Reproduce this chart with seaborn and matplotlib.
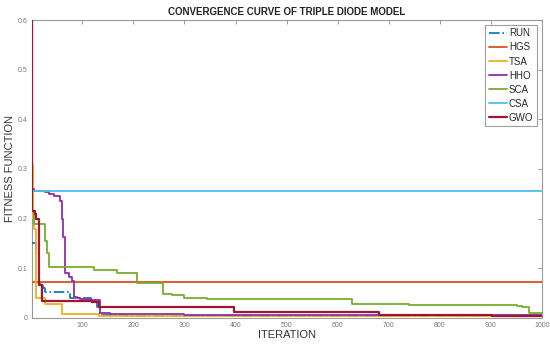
import numpy as np
import pandas as pd
import matplotlib
matplotlib.use('Agg')
import matplotlib.pyplot as plt
import seaborn as sns

# breakpoints (iteration, best fitness), drawn as steps
run_it = [1, 4, 10, 14, 17, 22, 27, 76, 116, 129, 135, 187, 1000]
run_val = [0.15, 0.15, 0.13, 0.07, 0.068, 0.06, 0.053, 0.041, 0.035, 0.021, 0.006, 0.003, 0.002]

hgs_it = [1, 1000]
hgs_val = [0.072, 0.072]

tsa_it = [1, 3, 6, 10, 27, 60, 133, 1000]
tsa_val = [0.31, 0.2, 0.18, 0.039, 0.027, 0.008, 0.004, 0.003]

hho_it = [1, 5, 27, 35, 45, 57, 60, 62, 65, 73, 80, 83, 90, 96, 116, 135, 155, 300, 1000]
hho_val = [0.26, 0.255, 0.253, 0.25, 0.245, 0.236, 0.2, 0.163, 0.09, 0.083, 0.075,
           0.043, 0.04, 0.038, 0.035, 0.01, 0.008, 0.005, 0.003]

sca_it = [1, 5, 27, 30, 34, 122, 168, 207, 257, 276, 299, 344, 629, 740, 952, 962, 975, 1000]
sca_val = [0.215, 0.19, 0.155, 0.13, 0.103, 0.096, 0.091, 0.071, 0.049, 0.047, 0.039,
           0.037, 0.027, 0.026, 0.024, 0.022, 0.009, 0.009]

csa_it = [1, 1000]
csa_val = [0.255, 0.255]

gwo_it = [1, 2, 8, 10, 14, 21, 119, 133, 397, 681, 903, 1000]
gwo_val = [0.6, 0.216, 0.21, 0.2, 0.066, 0.033, 0.031, 0.021, 0.011, 0.006, 0.003, 0.003]

names = ['RUN', 'HGS', 'TSA', 'HHO', 'SCA', 'CSA', 'GWO']
series = [(run_it, run_val), (hgs_it, hgs_val), (tsa_it, tsa_val), (hho_it, hho_val),
          (sca_it, sca_val), (csa_it, csa_val), (gwo_it, gwo_val)]
colors = ['#0072BD', '#D95319', '#EDB120', '#8E2FA8', '#77AC30', '#4DBEEE', '#A2142F']
styles = ['-.', '-', '-', '-', '-', '-', '-']
widths = [1.2, 1.3, 1.3, 1.3, 1.3, 1.3, 1.6]

sns.set_style('white')
plt.rcParams['font.family'] = ['Liberation Sans', 'DejaVu Sans']

fig = plt.figure(figsize=(5.5, 3.47), dpi=100)
ax = fig.add_axes([0.058, 0.084, 0.927, 0.858])

for name, (it, val), c, ls, lw in zip(names, series, colors, styles, widths):
    df = pd.DataFrame({'iteration': it, 'fitness': val})
    sns.lineplot(data=df, x='iteration', y='fitness', ax=ax, color=c, linestyle=ls,
                 linewidth=lw, drawstyle='steps-post', label=name, estimator=None,
                 zorder=3)

ax.set_xlim(1, 1000)
ax.set_ylim(0, 0.6)
ax.set_xticks(np.arange(100, 1001, 100))
ax.set_yticks(np.arange(0, 0.61, 0.1))
ax.set_yticklabels(['0', '0.1', '0.2', '0.3', '0.4', '0.5', '0.6'])
ax.tick_params(direction='in', length=3, width=0.6, colors='#888888', labelsize=5,
               labelcolor='#777777', top=True, right=True, pad=3)
for sp in ax.spines.values():
    sp.set_color('#999999')
    sp.set_linewidth(0.8)

ax.set_title('CONVERGENCE CURVE OF TRIPLE DIODE MODEL', fontsize=7, fontweight='bold',
             color='#222222', pad=4)
ax.set_xlabel('ITERATION', fontsize=8, color='#333333', labelpad=1)
ax.set_ylabel('FITNESS FUNCTION', fontsize=8, color='#333333', labelpad=2)

leg = ax.legend(loc='upper right', fontsize=7, frameon=True, fancybox=False,
                handlelength=1.9, handletextpad=0.2, borderpad=0.35, labelspacing=0.42,
                borderaxespad=0.5)
leg.get_frame().set_edgecolor('#888888')
leg.get_frame().set_linewidth(0.8)

fig.savefig('out.png', dpi=100)
